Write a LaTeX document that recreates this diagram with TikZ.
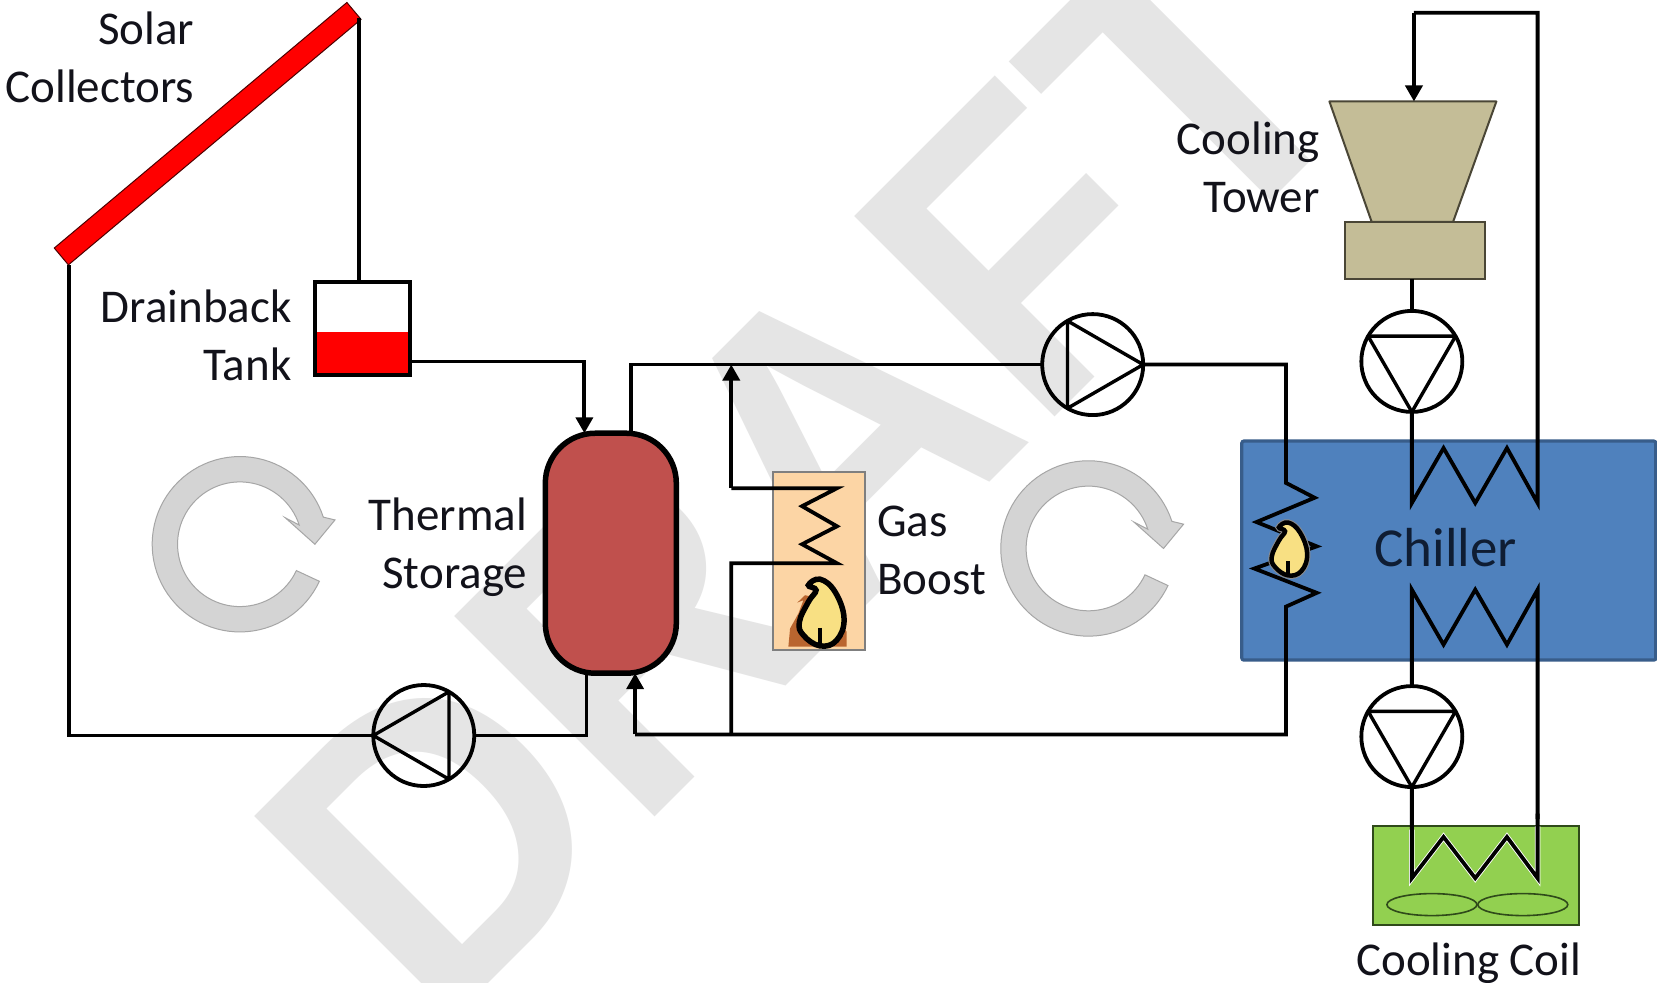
\documentclass[tikz,border=0pt]{standalone}
\usepackage{fontspec}
\usepackage{graphicx}
\setmainfont{Carlito}
\newfontfamily\wmfont{Liberation Sans}[BoldFont={Liberation Sans Bold}]
\usetikzlibrary{arrows.meta,shapes.geometric}
\definecolor{wm}{HTML}{E5E5E5}
\definecolor{ink}{HTML}{12121A}
\definecolor{chillink}{HTML}{0F1D33}
\definecolor{ringfill}{HTML}{D4D4D4}
\definecolor{ringedge}{HTML}{A6A6A6}
\definecolor{tankred}{HTML}{C0504D}
\definecolor{chillblue}{HTML}{4F81BD}
\definecolor{chilledge}{HTML}{385D8A}
\definecolor{towerfill}{HTML}{C4BD97}
\definecolor{toweredge}{HTML}{4A4636}
\definecolor{coilgreen}{HTML}{92D050}
\definecolor{coiledge}{HTML}{2F4A1A}
\definecolor{boostfill}{HTML}{FCD5A5}
\definecolor{boostedge}{HTML}{7F7F7F}
\definecolor{flamey}{HTML}{F8E083}
\definecolor{flameb}{HTML}{B9652F}
\tikzset{
  pipe/.style={draw=black,line width=3.8pt,line join=miter},
  flow/.style={pipe,-{Triangle[length=16pt,width=17pt]}},
  pumpbody/.style={circle,draw=black,line width=3.8pt,minimum size=101pt,inner sep=0pt,outer sep=0pt},
  impeller/.style={draw=black,line width=3.4pt,line join=round},
  label/.style={font=\fontsize{47}{58}\selectfont,text=ink,inner sep=0pt},
  ring/.style={fill=ringfill,draw=ringedge,line width=1pt,line join=miter},
}
\newcommand{\loopring}[2]{%
  \draw[ring] plot[domain=25:342,samples=80] ({#1+83*cos(\x)},{#2+83*sin(\x)})
    -- ({#1+90},{#2-23}) -- ({#1+71},{#2}) -- ({#1+43},{#2-25})
    -- plot[domain=342:25,samples=80] ({#1+59*cos(\x)},{#2+59*sin(\x)}) -- cycle;}
\newcommand{\flameshape}{plot[smooth cycle,tension=.7] coordinates {(-35,-80) (0,-98) (45,-60) (72,20) (50,85) (0,102) (-50,70) (-62,30) (-35,-30) (-12,-65)}}
\begin{document}
\begin{tikzpicture}[x=1.0568pt,y=-1.0568pt]
\clip (0,0) rectangle (1568,930);
\fill[white] (0,0) rectangle (1568,930);
% watermark
\node[anchor=base west,rotate=45,inner sep=0pt,text=wm,font=\wmfont\bfseries\fontsize{400}{400}\selectfont] (draftmark) at (413,980) {\scalebox{.98}[1.03]{DRAFT}};
% rings
\loopring{227}{515}
\loopring{1030}{519}
% boxes
\node[rectangle,rotate=40,draw=black!70!red,line width=1pt,fill=red,minimum width=382pt,minimum height=22pt,inner sep=0pt,outer sep=0pt] (collector) at (196.5,126.5) {};
\fill[red] (298,314) rectangle (388,355);
\node[rectangle,draw=black,line width=3.6pt,minimum width=95pt,minimum height=93pt,inner sep=0pt,outer sep=0pt] (drain) at (343,311) {};
\node[rectangle,draw=black,fill=tankred,line width=5.5pt,rounded corners=50pt,minimum width=131pt,minimum height=240pt,inner sep=0pt,outer sep=0pt] (store) at (578,523.5) {};
\node[rectangle,draw=boostedge,fill=boostfill,line width=2pt,minimum width=93pt,minimum height=178pt,inner sep=0pt,outer sep=0pt] (boost) at (775,531) {};
\node[rectangle,draw=chilledge,fill=chillblue,line width=3.2pt,rounded corners=2pt,minimum width=414pt,minimum height=219pt,inner sep=0pt,outer sep=0pt] (chiller) at (1371,521) {};
\draw[draw=toweredge,fill=towerfill,line width=2pt,line join=round] (1258,96) -- (1416,96) -- (1375,210) -- (1298,210) -- cycle;
\node[rectangle,draw=toweredge,fill=towerfill,line width=2pt,minimum width=139.5pt,minimum height=57pt,inner sep=0pt,outer sep=0pt] (towerbase) at (1339,237) {};
\coordinate (towertop) at (1338,96);
\node[rectangle,draw=coiledge,fill=coilgreen,line width=2pt,minimum width=206pt,minimum height=99pt,inner sep=0pt,outer sep=0pt] (coil) at (1396.5,828) {};
\node[ellipse,draw=coiledge,line width=1.6pt,minimum width=90pt,minimum height=22pt,inner sep=0pt] (fanA) at (1355,856) {};
\node[ellipse,draw=coiledge,line width=1.6pt,minimum width=90pt,minimum height=22pt,inner sep=0pt] (fanB) at (1441,856) {};
% pumps
\node[pumpbody] (pumpA) at (401,696) {};
\node[pumpbody] (pumpB) at (1034,345) {};
\node[pumpbody] (pumpC) at (1336,342) {};
\node[pumpbody] (pumpD) at (1336,697) {};
\draw[impeller] (pumpA.180) -- (pumpA.60) -- (pumpA.300) -- cycle;
\draw[impeller] (pumpB.0) -- (pumpB.120) -- (pumpB.240) -- cycle;
\draw[impeller] (pumpC.270) -- (pumpC.150) -- (pumpC.30) -- cycle;
\draw[impeller] (pumpD.270) -- (pumpD.150) -- (pumpD.30) -- cycle;
% junction coordinates
\coordinate (colR) at (340,17);
\coordinate (drainT) at (340,267);
\coordinate (drainR) at (388,342);
\coordinate (storeInT) at (553,410);
\coordinate (storeOutT) at (597,410);
\coordinate (storeOutB) at (555,637);
\coordinate (storeInB) at (601,637);
\coordinate (colL) at (65,251);
\coordinate (cornerBL) at (65,696);
\coordinate (teeTop) at (692,345);
\coordinate (teeBot) at (692,695);
\coordinate (cornerRT) at (1217,345);
\coordinate (cornerRB) at (1217,695);
% connectors
\draw[pipe] (colR) -- (drainT);
\draw[pipe] (colL) -- (cornerBL) -- (pumpA.west);
\draw[pipe] (pumpA.east) -- (555,696) -- (storeOutB);
\draw[flow] (drainR) -- (553,342) -- (storeInT);
\draw[pipe] (storeOutT) -- (597,345) -- (pumpB.west);
\draw[pipe] (pumpB.east) -- (cornerRT) -- (1217,457) -- (1244,471) -- (1189,494) -- (1246,517) -- (1187,538) -- (1246,561) -- (1217,574) -- (cornerRB) -- (601,695);
\draw[flow] (601,695) -- (storeInB);
\draw[pipe] (teeBot) -- (692,533) -- (792,533) -- (759,515) -- (792,498) -- (759,479) -- (792,462) -- (692,462);
\draw[flow] (692,462) -- (teeTop);
\draw[pipe] (towerbase.south -| pumpC.north) -- (pumpC.north);
\draw[pipe] (pumpC.south) -- (1336,476) -- (1366,424) -- (1396,476) -- (1426,424) -- (1455,476) -- (1455,12) -- (1338,12);
\draw[flow] (1338,12) -- (towertop);
\draw[pipe] (pumpD.north) -- (1336,558) -- (1366,610) -- (1396,558) -- (1426,610) -- (1455,558) -- (1455,775);
\draw[white,line width=5.6pt,line join=miter] (1336,785) -- (1336,831) -- (1366,792) -- (1396,831) -- (1426,792) -- (1455,831) -- (1455,782);
\draw[pipe] (pumpD.south) -- (1336,831) -- (1366,792) -- (1396,831) -- (1426,792) -- (1455,831) -- (1455,770);
% flames
\begin{scope}[shift={(776,579)},scale=.3154]
  \fill[flameb] (-95,104) -- (-90,50) -- (-65,5) -- (-50,-35) -- (-68,-28) -- (-45,-50) -- (0,-40) -- (40,0) -- (80,60) -- (80,104) -- cycle;
  \draw[black,line width=5.5pt,fill=flamey] \flameshape;
  \draw[black,line width=4.5pt] (0,48) -- (0,105);
\end{scope}
\begin{scope}[shift={(1219,519)},scale=.25]
  \draw[black!45!white,line width=6.5pt] \flameshape;
  \draw[black,line width=4.5pt,fill=flamey] \flameshape;
  \draw[black,line width=4pt] (0,48) -- (0,100);
\end{scope}
% labels
\node[label,anchor=east,align=right] (lblSolar) at (184,54.5) {Solar\\Collectors};
\node[label,anchor=east,align=right] (lblDrain) at (276,317.5) {Drainback\\Tank};
\node[label,anchor=east,align=right] (lblStore) at (499,518) {Thermal\\Storage};
\node[label,anchor=west,align=left] (lblGas) at (830,521) {Gas\\Boost};
\node[label,anchor=east,align=right] (lblTower) at (1249,158.5) {Cooling\\Tower};
\node[label,text=chillink,font=\fontsize{55}{60}\selectfont] (lblChiller) at (1368,518) {Chiller};
\node[label] (lblCoil) at (1390,911) {Cooling Coil};
\end{tikzpicture}
\end{document}
